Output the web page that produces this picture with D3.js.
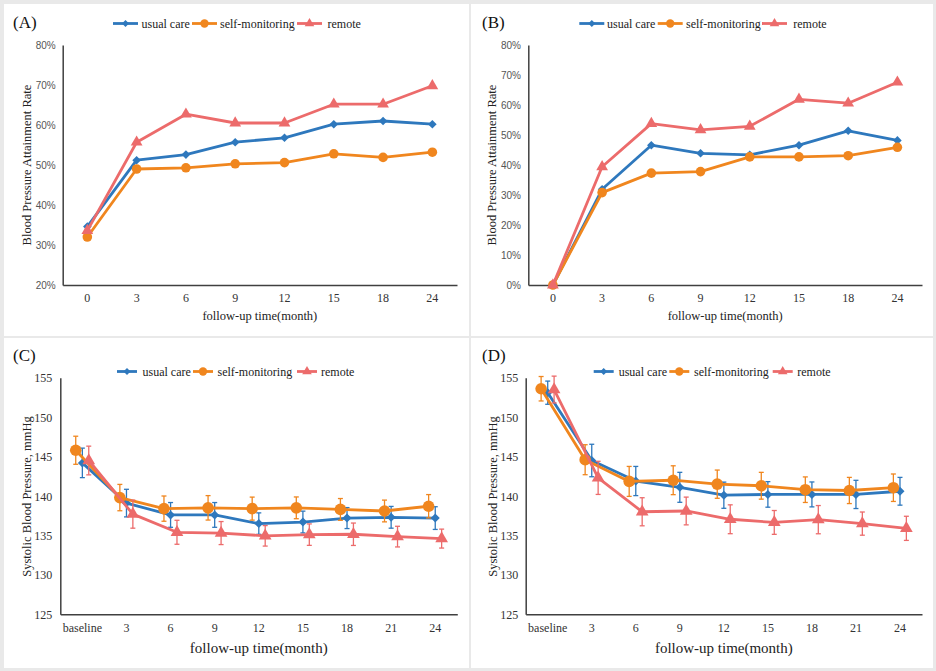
<!DOCTYPE html>
<html><head><meta charset="utf-8">
<script src="https://cdn.jsdelivr.net/npm/d3@7"></script>
<style>body{margin:0;background:#fff} svg{display:block}</style></head><body>
<svg id="c" width="936" height="671"></svg>
<script>
// ---------- DATA ----------
const catsAB = ["0","3","6","9","12","15","18","24"];
const catsCD = ["baseline","3","6","9","12","15","18","21","24"];
const seriesNames = ["usual care","self-monitoring","remote"];
const yTicksA = [20,30,40,50,60,70,80];
const yTicksB = [0,10,20,30,40,50,60,70,80];
const yTicksCD = [125,130,135,140,145,150,155];

const A_usual  = [34.6,51.2,52.6,55.7,56.8,60.2,61.0,60.2];
const A_self   = [32.0,49.0,49.3,50.3,50.6,52.8,51.9,53.2];
const A_remote = [33.6,55.7,62.7,60.5,60.5,65.2,65.2,69.8];

const B_usual  = [0,31.9,46.6,43.9,43.4,46.6,51.4,48.2];
const B_self   = [0,30.8,37.3,37.8,42.7,42.7,43.1,45.9];
const B_remote = [0,39.4,53.8,51.7,52.9,61.9,60.6,67.6];

const C_usual      = [144.2,139.1,137.6,137.6,136.5,136.7,137.2,137.3,137.2];
const C_usual_err  = [1.87,1.75,1.57,1.57,1.36,1.38,1.33,1.38,1.44];
const C_self       = [145.8,139.8,138.4,138.5,138.4,138.5,138.3,138.1,138.7];
const C_self_err   = [1.78,1.67,1.6,1.55,1.46,1.38,1.38,1.38,1.48];
const C_remote     = [144.5,137.7,135.4,135.3,134.95,135.1,135.15,134.85,134.6];
const C_remote_err = [1.82,1.78,1.52,1.46,1.3,1.36,1.42,1.31,1.2];

const D_usual      = [153.1,144.5,141.9,141.1,140.1,140.2,140.2,140.2,140.6];
const D_usual_err  = [1.47,2.06,1.85,1.9,1.66,1.62,1.58,1.79,1.76];
const D_self       = [153.6,144.6,141.85,142.0,141.5,141.3,140.8,140.7,141.05];
const D_self_err   = [1.55,1.9,1.9,1.83,1.79,1.7,1.62,1.66,1.74];
const D_remote     = [153.5,142.3,138.0,138.1,137.05,136.65,137.0,136.5,135.9];
const D_remote_err = [1.7,2.1,1.78,1.76,1.83,1.51,1.79,1.47,1.53];

// ---------- STYLE ----------
const colors = ["#2e78bd","#f0861e","#ec6b6b"];
const serif = "'Liberation Serif','Times New Roman',serif";
const sans = "'Liberation Sans',Arial,sans-serif";
const svg = d3.select("#c");

svg.append("rect").attr("width",936).attr("height",671).attr("fill","#e9e9e9");
[[4,4,465,332],[471,4,462,332],[4,338,465,330],[471,338,462,330]].forEach(b=>{
  svg.append("rect").attr("x",b[0]).attr("y",b[1]).attr("width",b[2]).attr("height",b[3]).attr("fill","#fff");
});

function marker(g, type, cx, cy, color, s){
  if(type===0){
    const r=s.d;
    g.append("path").attr("d",`M${cx},${cy-r}L${cx+r},${cy}L${cx},${cy+r}L${cx-r},${cy}Z`).attr("fill",color);
  } else if(type===1){
    g.append("circle").attr("cx",cx).attr("cy",cy).attr("r",s.c).attr("fill",color);
  } else {
    g.append("path").attr("d",d3.symbol(d3.symbolTriangle, s.t)()).attr("transform",`translate(${cx},${cy})`).attr("fill",color);
  }
}

function drawPanel(cfg){
  const g = svg.append("g");
  const x = d3.scaleBand().domain(cfg.cats).range([cfg.x0,cfg.x1]);
  const y = d3.scaleLinear().domain(cfg.domain).range([cfg.yb,cfg.yt]);
  // y axis
  const ya = g.append("g").attr("transform",`translate(${cfg.x0},0)`)
    .call(d3.axisLeft(y).tickValues(cfg.yTicks).tickSize(0).tickSizeOuter(0).tickPadding(cfg.yPad).tickFormat(cfg.fmt));
  ya.select(".domain").attr("stroke","#404040").attr("stroke-width",1.5);
  ya.selectAll("text").attr("font-family",cfg.yFont).attr("font-size",cfg.yFontSize).attr("fill",cfg.yFill)
    .attr("dy",null).attr("dominant-baseline","central");
  // x axis
  const xa = g.append("g").attr("transform",`translate(0,${cfg.yb})`)
    .call(d3.axisBottom(x).tickSize(0).tickSizeOuter(0));
  xa.select(".domain").attr("stroke","#404040").attr("stroke-width",1.5);
  xa.selectAll("text").attr("font-family",serif).attr("font-size",cfg.xFontSize).attr("fill","#333")
    .attr("dy",null).attr("y",cfg.xLabOff).attr("dominant-baseline","central");
  // titles
  g.append("text").attr("x",(cfg.x0+cfg.x1)/2).attr("y",cfg.xTitleY).attr("text-anchor","middle")
    .attr("dominant-baseline","central").attr("font-family",serif).attr("font-size",cfg.xTitleSize).attr("fill","#222")
    .text("follow-up time(month)");
  g.append("text").attr("transform",`translate(${cfg.yTitleX},${cfg.yTitleY}) rotate(-90)`).attr("text-anchor","middle")
    .attr("dominant-baseline","central").attr("font-family",serif).attr("font-size",12.5).attr("fill","#222")
    .text(cfg.yTitle);
  g.append("text").attr("x",cfg.labX).attr("y",cfg.labY).attr("dominant-baseline","central")
    .attr("font-family",serif).attr("font-size",17).attr("fill","#111").text(cfg.label);
  // series
  const bw = x.bandwidth();
  cfg.series.forEach((vals,si)=>{
    const off = (cfg.jitter ? cfg.jitter[si] : 0)*bw;
    const pts = vals.map((v,i)=>[x(cfg.cats[i])+bw/2+off, y(v)]);
    g.append("path").attr("d",d3.line()(pts)).attr("fill","none").attr("stroke",colors[si])
      .attr("stroke-width",2.8).attr("stroke-linejoin","round");
    if(cfg.errors){
      cfg.errors[si].forEach((e,i)=>{
        const cx=pts[i][0], ylo=y(vals[i]-e), yhi=y(vals[i]+e);
        const eg=g.append("g").attr("stroke",colors[si]).attr("stroke-width",1.3);
        eg.append("line").attr("x1",cx).attr("x2",cx).attr("y1",ylo).attr("y2",yhi);
        eg.append("line").attr("x1",cx-2.5).attr("x2",cx+2.5).attr("y1",ylo).attr("y2",ylo);
        eg.append("line").attr("x1",cx-2.5).attr("x2",cx+2.5).attr("y1",yhi).attr("y2",yhi);
      });
    }
    pts.forEach(p=>marker(g,si,p[0],p[1],colors[si],cfg.msize));
  });
  // legend
  seriesNames.forEach((n,si)=>{
    const lx = cfg.legX[si], ly = cfg.legY, L = cfg.legLen;
    g.append("line").attr("x1",lx).attr("x2",lx+L).attr("y1",ly).attr("y2",ly)
      .attr("stroke",colors[si]).attr("stroke-width",2.8);
    marker(g,si,lx+L/2,ly,colors[si],{d:3.5,c:4.2,t:40});
    g.append("text").attr("x",cfg.legTX[si]).attr("y",ly).attr("dominant-baseline","central")
      .attr("font-family",serif).attr("font-size",12).attr("fill","#222").text(n);
  });
}

const pctFmt = d=>d+"%";
drawPanel({label:"(A)",labX:13,labY:22,cats:catsAB,x0:62.7,x1:457,yb:285,yt:45,domain:[20,80],
  yTicks:yTicksA,fmt:pctFmt,yPad:7,yFont:sans,yFontSize:10,yFill:"#555",xFontSize:12,xLabOff:13,
  xTitleY:316,xTitleSize:12.5,yTitle:"Blood Pressure Attainment Rate",yTitleX:26.5,yTitleY:165,
  series:[A_usual,A_self,A_remote],msize:{d:4.3,c:4.8,t:60},
  legX:[113,192,297],legTX:[141.5,220,327.5],legY:23.5,legLen:25});
drawPanel({label:"(B)",labX:482,labY:22,cats:catsAB,x0:528.3,x1:922,yb:285,yt:45,domain:[0,80],
  yTicks:yTicksB,fmt:pctFmt,yPad:7.3,yFont:sans,yFontSize:10,yFill:"#555",xFontSize:12,xLabOff:13,
  xTitleY:316,xTitleSize:12.5,yTitle:"Blood Pressure Attainment Rate",yTitleX:492,yTitleY:165,
  series:[B_usual,B_self,B_remote],msize:{d:4.3,c:4.8,t:60},
  legX:[579.3,657.7,762],legTX:[607,686,793.3],legY:23.5,legLen:25});
drawPanel({label:"(C)",labX:13,labY:355.5,cats:catsCD,x0:60.3,x1:457.3,yb:614.3,yt:377.7,domain:[125,155],
  yTicks:yTicksCD,fmt:d=>d,yPad:8,yFont:serif,yFontSize:12,yFill:"#333",xFontSize:12,xLabOff:14,
  xTitleY:648,xTitleSize:15,yTitle:"Systolic Blood Pressure, mmHg",yTitleX:26.5,yTitleY:496.5,
  series:[C_usual,C_self,C_remote],errors:[C_usual_err,C_self_err,C_remote_err],jitter:[0,-0.15,0.145],
  msize:{d:4.5,c:5.8,t:70},
  legX:[117,193,297],legTX:[142.5,217.5,321],legY:371.5,legLen:20});
drawPanel({label:"(D)",labX:482,labY:355.5,cats:catsCD,x0:525.7,x1:922,yb:614.3,yt:377.7,domain:[125,155],
  yTicks:yTicksCD,fmt:d=>d,yPad:7.4,yFont:serif,yFontSize:12,yFill:"#333",xFontSize:12,xLabOff:14,
  xTitleY:648,xTitleSize:15,yTitle:"Systolic Blood Pressure, mmHg",yTitleX:492.5,yTitleY:496.5,
  series:[D_usual,D_self,D_remote],errors:[D_usual_err,D_self_err,D_remote_err],jitter:[0,-0.15,0.145],
  msize:{d:4.5,c:5.8,t:70},
  legX:[593.7,669.3,772.7],legTX:[618.7,694,797.3],legY:371.5,legLen:20});
</script></body></html>
